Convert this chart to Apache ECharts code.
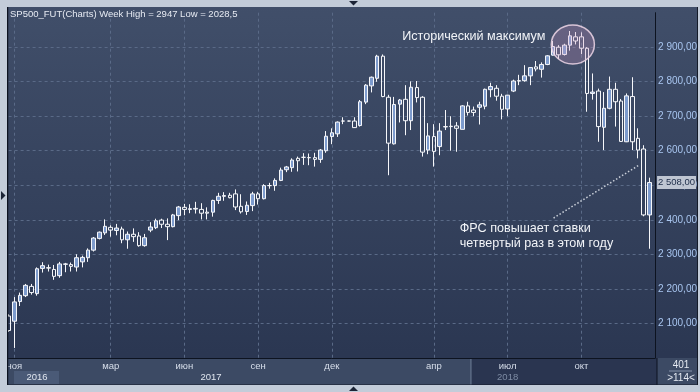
<!DOCTYPE html>
<html><head><meta charset="utf-8">
<script src="https://cdn.jsdelivr.net/npm/echarts@6/dist/echarts.min.js"></script>
<style>html,body{margin:0;padding:0;background:#c3ccd9;}#c{width:700px;height:392px;}</style>
</head><body><div id="c"></div>
<script>
// ---- DATA ----
const weeks = [
'2016-10-31','2016-11-07','2016-11-14','2016-11-21','2016-11-28','2016-12-05','2016-12-12','2016-12-19','2016-12-26',
'2017-01-02','2017-01-09','2017-01-16','2017-01-23','2017-01-30','2017-02-06','2017-02-13','2017-02-20','2017-02-27',
'2017-03-06','2017-03-13','2017-03-20','2017-03-27','2017-04-03','2017-04-10','2017-04-17','2017-04-24','2017-05-01',
'2017-05-08','2017-05-15','2017-05-22','2017-05-29','2017-06-05','2017-06-12','2017-06-19','2017-06-26','2017-07-03',
'2017-07-10','2017-07-17','2017-07-24','2017-07-31','2017-08-07','2017-08-14','2017-08-21','2017-08-28','2017-09-04',
'2017-09-11','2017-09-18','2017-09-25','2017-10-02','2017-10-09','2017-10-16','2017-10-23','2017-10-30','2017-11-06',
'2017-11-13','2017-11-20','2017-11-27','2017-12-04','2017-12-11','2017-12-18','2017-12-24','2017-12-25',
'2018-01-01','2018-01-08','2018-01-15','2018-01-22','2018-01-29','2018-02-05','2018-02-12','2018-02-19','2018-02-26',
'2018-03-05','2018-03-12','2018-03-19','2018-03-26','2018-04-02','2018-04-09','2018-04-16','2018-04-23','2018-04-30',
'2018-05-07','2018-05-14','2018-05-21','2018-05-28','2018-06-04','2018-06-11','2018-06-18','2018-06-25','2018-07-02',
'2018-07-09','2018-07-16','2018-07-23','2018-07-30','2018-08-06','2018-08-13','2018-08-20','2018-08-27','2018-09-03',
'2018-09-10','2018-09-17','2018-09-24','2018-10-01','2018-10-08','2018-10-15','2018-10-22','2018-10-29','2018-11-05',
'2018-11-12','2018-11-19','2018-11-26','2018-12-03','2018-12-10','2018-12-17','2018-12-24','2018-12-31'];

const opens = [2121,2106,2163,2180,2207,2186,2259,2260,2256,
2238,2271,2270,2263,2278,2290,2312,2346,2362,
2378,2369,2373,2342,2358,2353,2325,2370,2377,
2399,2387,2380,2412,2436,2430,2431,2430,2422,
2422,2456,2468,2471,2475,2439,2424,2441,2475,
2461,2499,2499,2514,2545,2551,2578,2581,2580,
2580,2575,2600,2641,2649,2686,2686,2686,
2673,2741,2788,2810,2874,2755,2620,2735,2749,
2687,2783,2755,2602,2641,2612,2670,2671,2672,
2662,2730,2718,2726,2729,2777,2781,2758,2721,
2773,2802,2803,2817,2843,2836,2850,2877,2900,
2879,2906,2930,2930,2897,2766,2773,2668,2723,
2778,2744,2626,2757,2636,2605,2414];
const highs = [2126,2176,2189,2214,2214,2262,2277,2270,2269,
2278,2275,2276,2300,2296,2317,2350,2366,2401,
2384,2388,2380,2366,2375,2364,2359,2393,2403,
2403,2404,2417,2440,2446,2445,2452,2448,2436,
2458,2478,2480,2478,2488,2474,2453,2481,2481,
2503,2507,2520,2551,2556,2578,2583,2593,2592,
2594,2605,2657,2665,2685,2697,2687,2697,
2747,2793,2815,2878,2879,2762,2756,2750,2790,
2801,2802,2758,2680,2677,2680,2718,2700,2683,
2732,2742,2728,2742,2780,2797,2790,2765,2762,
2806,2820,2848,2842,2860,2856,2877,2918,2906,
2910,2947,2944,2943,2900,2824,2780,2770,2815,
2797,2750,2766,2813,2665,2616,2522];
const lows = [2075,2028.5,2150,2176,2183,2180,2247,2250,2226,
2232,2248,2250,2250,2262,2278,2308,2343,2356,
2351,2355,2332,2316,2336,2322,2322,2364,2373,
2376,2341,2378,2399,2413,2419,2418,2401,2401,
2409,2446,2455,2462,2428,2418,2414,2425,2444,
2459,2490,2484,2512,2538,2539,2540,2559,2558,
2554,2565,2594,2619,2640,2677,2685,2666,
2670,2735,2769,2800,2755,2529,2618,2682,2645,
2660,2740,2583,2590,2554,2587,2660,2600,2597,
2662,2702,2700,2676,2720,2755,2745,2691,2700,
2770,2790,2800,2790,2830,2812,2848,2876,2866,
2876,2890,2908,2880,2713,2748,2626,2602,2720,
2670,2626,2625,2602,2578,2410,2316];
const closes = [2079,2162,2181,2210,2189,2258,2267,2261,2236,
2272,2272,2265,2290,2291,2312,2347,2364,2381,
2370,2376,2342,2358,2351,2325,2348,2379,2397,
2387,2380,2414,2437,2430,2432,2433,2419,2419,
2456,2468,2470,2464,2437,2423,2442,2475,2461,
2499,2499,2514,2544,2553,2573,2571,2581,2580,
2575,2602,2642,2652,2683,2686,2686,2667,
2742,2790,2813,2874,2757,2622,2734,2747,2687,
2784,2754,2596,2643,2598,2657,2669,2670,2665,
2730,2711,2711,2733,2778,2786,2758,2720,2761,
2802,2803,2817,2841,2837,2850,2875,2902,2878,
2906,2933,2918,2897,2766,2770,2670,2723,2778,
2742,2627,2759,2626,2602,2414,2508];

const priceTicks = [2100,2200,2300,2400,2500,2600,2700,2800,2900];
const monthTicks = ['2016-11-07','2017-03-06','2017-06-05','2017-09-04','2017-12-04','2018-04-02','2018-07-02','2018-10-01'];
const monthNames = ['ноя','мар','июн','сен','дек','апр','июл','окт'];
const yearNames = ['2016','2017','2018'];
const titleText = 'SP500_FUT(Charts) Week High = 2947 Low = 2028,5';
const peakNote = 'Исторический максимум';
const fedNote = 'ФРС повышает ставки\nчетвертый раз в этом году';

// ---- CHART ----
const fmt = v => { const t = Math.floor(v/1000), r = Math.round(v%1000); return t + ' ' + String(r).padStart(3,'0') + ',00'; };
const candle = weeks.map((w,i) => opens[i] == null ? '-' : [opens[i], closes[i], lows[i], highs[i]]);
const lastClose = closes[closes.length-1];
const FONT = 'Liberation Sans';
const gridColors = [];
for (let v = 2000; v <= 3000; v += 100) gridColors.push(priceTicks.includes(v) ? '#5a6a87' : 'rgba(0,0,0,0)');

const chart = echarts.init(document.getElementById('c'));
chart.setOption({
  animation: false,
  backgroundColor: {type:'linear', x:0, y:0, x2:0, y2:1, colorStops:[{offset:0,color:'#414f6a'},{offset:0.9,color:'#2b3752'},{offset:1,color:'#2b3752'}]},
  textStyle: {fontFamily: FONT},
  grid: {left: 8.61, right: 43.1, top: 12.7, bottom: 34.2},
  xAxis: {
    type: 'category', data: weeks, boundaryGap: false,
    axisLine: {show: true, lineStyle: {color: '#0d1320', width: 1}},
    axisTick: {show: false},
    axisLabel: {interval: (i, v) => monthTicks.includes(v), formatter: v => monthNames[monthTicks.indexOf(v)] || '',
      color: '#d8dfeb', fontSize: 9.5, fontFamily: FONT, margin: 4},
    splitLine: {show: true, interval: (i, v) => monthTicks.includes(v), lineStyle: {color: '#5a6a87', type: [3,3], width: 1}}
  },
  yAxis: {
    type: 'value', position: 'right', min: 2000, max: 3000, interval: 100,
    axisLine: {show: true, lineStyle: {color: '#0d1320', width: 1}},
    axisTick: {show: false},
    axisLabel: {color: '#a9c6f0', fontSize: 10, fontFamily: FONT, margin: 3, showMinLabel: false, showMaxLabel: false,
      formatter: v => priceTicks.includes(v) ? fmt(v) : ''},
    splitLine: {show: true, lineStyle: {color: gridColors, type: [3,3], width: 1}}
  },
  series: [{
    type: 'candlestick', data: candle, barWidth: 4,
    itemStyle: {color: '#7d9bcd', color0: 'rgba(0,0,0,0)', borderColor: '#f6f7fa', borderColor0: '#f6f7fa', borderWidth: 1},
    markLine: {silent: true, symbol: ['none','none'], animation: false,
      data: [{yAxis: lastClose, lineStyle: {color: 'rgba(0,0,0,0)', width: 0},
        label: {show: true, position: 'end', formatter: fmt(lastClose), distance: 2, backgroundColor: '#bfc6d2',
          color: '#1c2b47', fontSize: 9.5, fontFamily: FONT, padding: [2,1,1,1]}}]}
  }]
});

// ---- ANNOTATIONS (anchored through the chart's own scales) ----
const P = (i, v) => chart.convertToPixel({gridIndex: 0}, [i, v]);
const xAt = f => { const a = Math.floor(f); const p0 = P(a, 2500)[0], p1 = P(a+1, 2500)[0]; return p0 + (p1-p0)*(f-a); };
const yAt = v => P(0, v)[1];
const step = xAt(2) - xAt(1);
const cx = xAt(99.5), cy = yAt(2908);
const rx = step*3.8, ry = yAt(2908) - yAt(2964.5);

chart.setOption({graphic: [
  // outer light frame
  {type:'rect', z:200, shape:{x:0,y:0,width:700,height:7}, style:{fill:'#c3ccd9'}},
  {type:'rect', z:200, shape:{x:0,y:385,width:700,height:7}, style:{fill:'#c3ccd9'}},
  {type:'rect', z:200, shape:{x:0,y:0,width:7,height:392}, style:{fill:'#c3ccd9'}},
  {type:'rect', z:200, shape:{x:698,y:0,width:2,height:392}, style:{fill:'#c3ccd9'}},
  {type:'polygon', z:201, shape:{points:[[349,1],[358,1],[353.5,5.5]]}, style:{fill:'#1c2436'}},
  {type:'polygon', z:201, shape:{points:[[349,391],[358,391],[353.5,386.5]]}, style:{fill:'#1c2436'}},
  {type:'polygon', z:201, shape:{points:[[1,191],[1,200],[5.5,195.5]]}, style:{fill:'#1c2436'}},
  {type:'rect', z:199, shape:{x:6.5,y:6.5,width:691,height:378.5}, style:{fill:'none', stroke:'#141b29', lineWidth:1}},
  {type:'line', z:199, shape:{x1:7.5,y1:7,x2:7.5,y2:385}, style:{stroke:'#0d1320', lineWidth:1.5}},
  // bottom band
  {type:'rect', z:-5, shape:{x:7,y:358,width:691,height:27}, style:{fill:'#3c4a64'}},
  {type:'rect', z:-4, shape:{x:472,y:358,width:185,height:27}, style:{fill:'#2a3550'}},
  {type:'rect', z:-4, shape:{x:470,y:358,width:1.5,height:27}, style:{fill:'#56657f'}},
  {type:'rect', z:-4, shape:{x:14,y:371,width:45,height:13}, style:{fill:'#4a5a77'}},
  {type:'line', z:10, shape:{x1:657,y1:358,x2:657,y2:385}, style:{stroke:'#0d1320', lineWidth:1}},
  {type:'text', z:10, style:{text:yearNames[0], x:xAt(5), y:377.5, fill:'#dfe5ef', font:'9.5px "Liberation Sans"', align:'center', verticalAlign:'middle'}},
  {type:'text', z:10, style:{text:yearNames[1], x:xAt(35.7), y:377.5, fill:'#dfe5ef', font:'9.5px "Liberation Sans"', align:'center', verticalAlign:'middle'}},
  {type:'text', z:10, style:{text:yearNames[2], x:xAt(88), y:377.5, fill:'#7d8ba3', font:'9.5px "Liberation Sans"', align:'center', verticalAlign:'middle'}},
  // corner counter
  {type:'text', z:10, style:{text:'401', x:681, y:365, fill:'#e4e9f1', font:'10px "Liberation Sans"', align:'center', verticalAlign:'middle'}},
  {type:'line', z:10, shape:{x1:669,y1:371,x2:692,y2:371}, style:{stroke:'#8593aa', lineWidth:1}},
  {type:'text', z:10, style:{text:'>114<', x:681, y:378, fill:'#e4e9f1', font:'10px "Liberation Sans"', align:'center', verticalAlign:'middle'}},
  // title
  {type:'text', z:10, style:{text:titleText, x:10, y:14, fill:'#e6eaf2', font:'9.5px "Liberation Sans"', align:'left', verticalAlign:'middle'}},
  // peak ellipse
  {type:'ellipse', z:50, shape:{cx:cx, cy:cy, rx:rx, ry:ry}, style:{fill:'rgba(205,150,195,0.28)', stroke:'rgba(238,215,232,0.85)', lineWidth:1.5}},
  {type:'text', z:50, style:{text:peakNote, x:xAt(69.4), y:yAt(2930), fill:'#f2f4f8', font:'12.6px "Liberation Sans"', align:'left', verticalAlign:'middle'}},
  // Fed note
  {type:'line', z:50, shape:{x1:xAt(96.1), y1:yAt(2405), x2:xAt(111.2), y2:yAt(2558.6)}, style:{stroke:'#c9cfd9', lineWidth:1.5, lineDash:[1.5,2]}},
  {type:'text', z:50, style:{text:fedNote, x:xAt(79.55), y:yAt(2375.2)-7, fill:'#f2f4f8', font:'12.6px "Liberation Sans"', align:'left', verticalAlign:'top', lineHeight:14.5}}
]});
</script></body></html>
